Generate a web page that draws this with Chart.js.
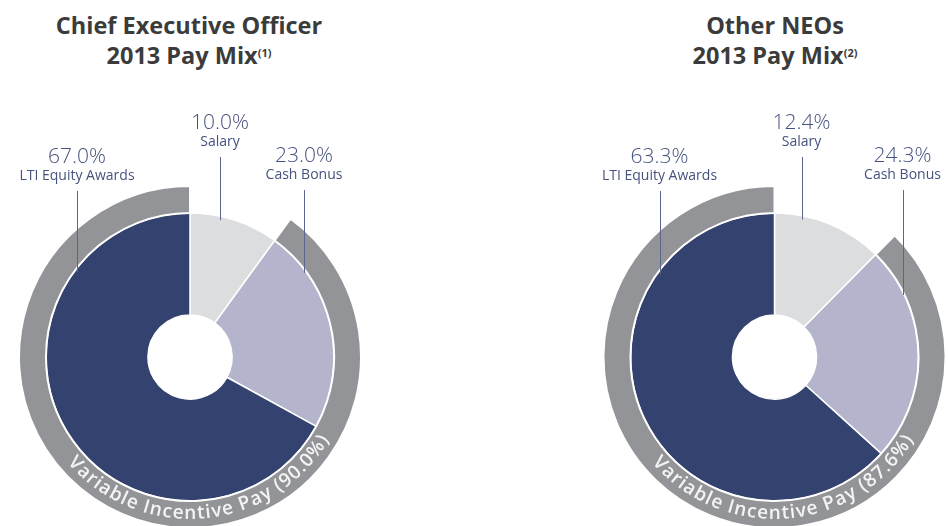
<!DOCTYPE html>
<html>
<head>
<meta charset="utf-8">
<script src="https://cdn.jsdelivr.net/npm/chart.js@4.4.1/dist/chart.umd.min.js"></script>
<style>
  body { margin:0; background:#fff; width:948px; height:526px; overflow:hidden; position:relative; font-family:"Open Sans", sans-serif; }
  .title { position:absolute; top:10px; width:400px; text-align:center; font-weight:700; font-size:23.5px; line-height:30px; color:#3b3b3b; }
  .title sup { font-size:11px; vertical-align:top; position:relative; top:-2px; }
  canvas { position:absolute; top:0; }
</style>
</head>
<body>
<div class="title" id="t0" style="left:-11px"></div>
<div class="title" id="t1" style="left:575px"></div>
<canvas id="ceo" width="474" height="526" style="left:0"></canvas>
<canvas id="neo" width="474" height="526" style="left:474px"></canvas>
<script>
// slices in clockwise order from 12 o'clock
const categories = ["Salary", "Cash Bonus", "LTI Equity Awards"];
const ceoValues = [10.0, 23.0, 67.0];
const neoValues = [12.4, 24.3, 63.3];
const ceoVariable = 90.0;
const neoVariable = 87.6;
const titleLines = [["Chief Executive Officer", "2013 Pay Mix", "(1)"], ["Other NEOs", "2013 Pay Mix", "(2)"]];

const TEXT = "#46527e";
const sliceColors = ["#dcdddf", "#b4b5cc", "#33426e"];
const ringGray = "#939497";

titleLines.forEach((t, i) => {
  document.getElementById("t" + i).innerHTML = t[0] + "<br>" + t[1] + "<sup>" + t[2] + "</sup>";
});

// label + curved text plugin
const payLabels = {
  id: "payLabels",
  afterDatasetsDraw(chart, args, opts) {
    const ctx = chart.ctx;
    const pie = chart.getDatasetMeta(1).data;
    const ring = chart.getDatasetMeta(0).data[1];
    const cx = pie[0].x, cy = pie[0].y, R = pie[0].outerRadius;
    const vals = chart.data.datasets[1].data;
    ctx.save();
    ctx.textAlign = "center";
    ctx.textBaseline = "middle";
    ctx.fillStyle = TEXT;
    ctx.strokeStyle = "#5a6690";
    ctx.lineWidth = 1;
    opts.layout.forEach((l, i) => {
      const x = cx + l.dx;
      ctx.font = '300 21px "Open Sans"';
      ctx.fillText(vals[i].toFixed(1) + "%", x, cy + l.top);
      ctx.font = '14px "Open Sans"';
      ctx.fillText(chart.data.labels[i], x, cy + l.top + 19);
      const yEnd = cy - Math.sqrt(R * R - l.dx * l.dx) + 4;
      ctx.beginPath();
      ctx.moveTo(Math.round(x) + 0.5, cy + l.top + 34);
      ctx.lineTo(Math.round(x) + 0.5, yEnd);
      ctx.stroke();
    });

    // text along the ring
    const r = (ring.innerRadius + ring.outerRadius) / 2 - 1;
    const text = "Variable Incentive Pay (" + opts.variable.toFixed(1) + "%)";
    const sp = 0.8;
    ctx.font = '600 19px "Open Sans"';
    ctx.fillStyle = "#f4f4f4";
    const W = ctx.measureText(text).width + sp * (text.length - 1);
    let a = opts.mid * Math.PI / 180 + W / r / 2;
    for (const ch of text) {
      const w = ctx.measureText(ch).width;
      const ac = a - w / 2 / r;
      ctx.save();
      ctx.translate(cx + r * Math.cos(ac), cy + r * Math.sin(ac));
      ctx.rotate(ac - Math.PI / 2);
      ctx.fillText(ch, 0, 0);
      ctx.restore();
      a -= (w + sp) / r;
    }
    ctx.restore();
  }
};

function makeChart(id, values, variable, padding, layout) {
  return new Chart(document.getElementById(id), {
    type: "doughnut",
    data: {
      labels: categories,
      datasets: [
        {
          data: [values[0], variable],
          backgroundColor: ["rgba(0,0,0,0)", ringGray],
          borderColor: "#ffffff",
          borderWidth: [0, 2],
          weight: 27
        },
        {
          data: values,
          backgroundColor: sliceColors,
          borderColor: "#ffffff",
          borderWidth: 1.5,
          weight: 102
        }
      ]
    },
    options: {
      responsive: false,
      animation: false,
      devicePixelRatio: 1,
      radius: 171,
      cutout: "24.6%",
      layout: { padding: padding },
      plugins: {
        legend: { display: false },
        tooltip: { enabled: false },
        payLabels: { layout: layout, variable: variable, mid: 85 }
      }
    },
    plugins: [payLabels]
  });
}

makeChart("ceo", ceoValues, ceoVariable, { top: 188, left: 0, right: 94, bottom: 0 },
  [{ dx: 30, top: -234 }, { dx: 114, top: -201 }, { dx: -113, top: -200 }]);
makeChart("neo", neoValues, neoVariable, { top: 188, left: 127, right: 0, bottom: 0 },
  [{ dx: 27, top: -234 }, { dx: 128, top: -201 }, { dx: -115, top: -200 }]);
</script>
</body>
</html>
